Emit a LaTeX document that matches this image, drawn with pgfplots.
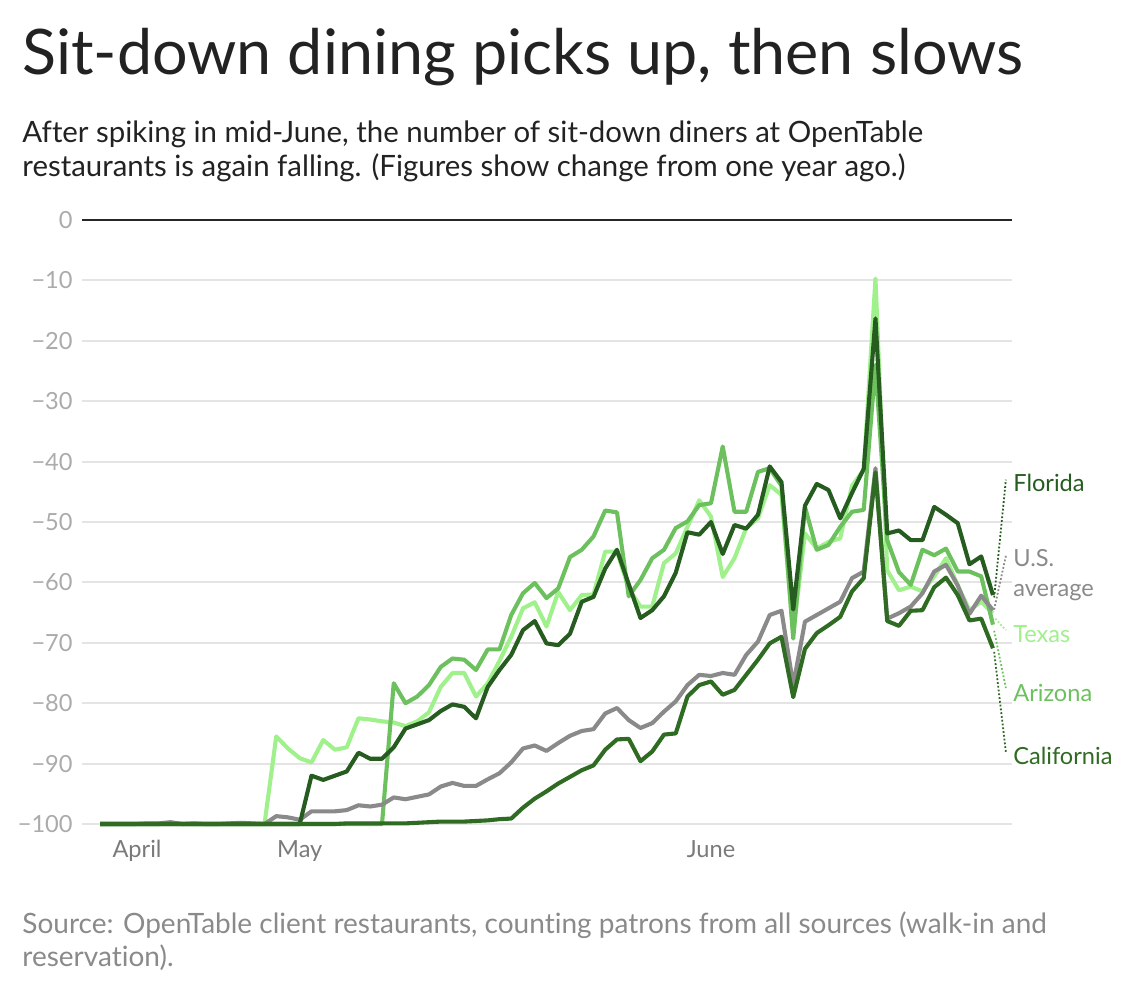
\documentclass[border=0pt]{standalone}
\usepackage{fontspec}
\setmainfont{Lato}[Ligatures={NoCommon}]
\usepackage{pgfplots}
\usepackage{pgfplotstable}
\pgfplotsset{compat=1.18}

\definecolor{tx}{HTML}{A0F08C}
\definecolor{az}{HTML}{6CC15E}
\definecolor{us}{HTML}{8A8A8A}
\definecolor{fl}{HTML}{265C1F}
\definecolor{ca}{HTML}{2F6B22}
\definecolor{ink}{HTML}{222222}
\definecolor{gridc}{HTML}{E4E4E4}

% change in seated diners vs. one year ago, daily
\pgfplotstableread{
i TX AZ US FL CA
0 -100 -100 -100 -100 -100
1 -100 -100 -100 -100 -100
2 -100 -100 -100 -100 -100
3 -100 -100 -100 -100 -100
4 -100 -100 -99.9 -100 -100
5 -100 -100 -99.9 -100 -100
6 -100 -99.8 -99.7 -100 -100
7 -100 -100 -100 -100 -100
8 -100 -100 -99.9 -100 -100
9 -100 -100 -100 -100 -100
10 -100 -100 -100 -100 -100
11 -100 -100 -99.9 -100 -100
12 -100 -100 -99.8 -100 -100
13 -100 -100 -99.9 -100 -100
14 -100 -100 -100 -100 -100
15 -85.5 -100 -98.7 -100 -100
16 -87.5 -100 -98.9 -100 -100
17 -89.1 -100 -99.3 -100 -100
18 -89.8 -100 -97.9 -92 -100
19 -86.1 -100 -97.9 -92.7 -100
20 -87.7 -100 -97.9 -92 -100
21 -87.3 -100 -97.7 -91.3 -99.9
22 -82.5 -100 -96.9 -88.2 -99.9
23 -82.7 -100 -97.1 -89.2 -99.9
24 -83.0 -100 -96.8 -89.2 -99.9
25 -83.2 -76.7 -95.6 -87.3 -99.9
26 -83.8 -80 -95.9 -84.2 -99.9
27 -83.0 -78.9 -95.5 -83.5 -99.8
28 -81.5 -77 -95.1 -82.8 -99.7
29 -77.3 -74 -93.8 -81.3 -99.6
30 -75.0 -72.6 -93.2 -80.2 -99.6
31 -75.0 -72.8 -93.7 -80.6 -99.6
32 -78.9 -74.5 -93.7 -82.5 -99.5
33 -76.7 -71.1 -92.6 -77.3 -99.4
34 -73.0 -71.1 -91.6 -74.5 -99.2
35 -69.0 -65.4 -89.8 -72 -99.1
36 -64.3 -61.8 -87.5 -67.9 -97.3
37 -63.3 -60.1 -87.0 -66.4 -95.8
38 -67.3 -62.6 -87.9 -70.1 -94.6
39 -61.6 -61 -86.6 -70.4 -93.3
40 -64.6 -55.8 -85.4 -68.5 -92.2
41 -62.1 -54.6 -84.6 -63.2 -91.1
42 -62.0 -52.4 -84.3 -62.4 -90.3
43 -54.9 -48.1 -81.7 -57.7 -87.7
44 -54.9 -48.4 -80.8 -54.6 -86.0
45 -61 -62.3 -82.8 -60.3 -85.9
46 -64 -59.6 -84.1 -65.9 -89.6
47 -64 -56 -83.3 -64.6 -88.0
48 -56.8 -54.6 -81.4 -62.3 -85.2
49 -55.2 -51 -79.7 -58.4 -85.0
50 -50.8 -49.9 -77 -51.7 -78.9
51 -46.4 -47.2 -75.3 -52.1 -77
52 -49.1 -46.9 -75.5 -50 -76.4
53 -59.1 -37.5 -75 -55.3 -78.6
54 -56 -48.3 -75.3 -50.5 -77.8
55 -51 -48.3 -72 -51.1 -75.3
56 -49.4 -41.7 -69.8 -48.8 -72.8
57 -43.9 -41.1 -65.4 -40.8 -70.1
58 -45.5 -44 -64.7 -43.4 -69
59 -68.4 -69.3 -77 -64.5 -79
60 -51.9 -47.5 -66.5 -47.3 -71
61 -54.4 -54.6 -65.4 -43.7 -68.4
62 -53.3 -53.8 -64.3 -44.7 -67.1
63 -52.7 -50.8 -63.2 -49.4 -65.7
64 -44 -48.3 -59.3 -45.2 -61.5
65 -41.4 -48 -58.2 -41.2 -59.3
66 -9.7 -24 -41.1 -16.3 -41.8
67 -58 -53 -66 -51.9 -66.4
68 -61.3 -58.3 -65.1 -51.4 -67.2
69 -60.7 -60.4 -64 -53 -64.7
70 -61.5 -54.6 -61.8 -53 -64.6
71 -59 -55.5 -58.2 -47.5 -60.8
72 -56 -54.4 -57.1 -48.8 -59.2
73 -60.5 -58.2 -60.5 -50.2 -62.1
74 -64.6 -58.2 -65.2 -57 -66.3
75 -63.2 -59 -62.2 -55.7 -66
76 -65.1 -67 -64.6 -62.1 -70.9
}\dining

\begin{document}
\begin{tikzpicture}
\useasboundingbox (0,0) rectangle (568pt,493pt);

\node[anchor=base west, inner sep=0, text=ink, font=\fontsize{31.4}{36}\selectfont]
  at (11pt,455.5pt) {Sit-down dining picks up, then slows};
\node[anchor=base west, inner sep=0, text=ink, font=\fontsize{14.7}{17}\selectfont]
  at (11pt,421.5pt) {After spiking in mid-June, the number of sit-down diners at OpenTable};
\node[anchor=base west, inner sep=0, text=ink, font=\fontsize{14.7}{17}\selectfont]
  at (11pt,404.5pt) {restaurants is again falling. (Figures show change from one year ago.)};
\node[anchor=base west, inner sep=0, text=us, font=\fontsize{14}{17}\selectfont]
  at (11pt,26.5pt) {Source: OpenTable client restaurants, counting patrons from all sources (walk-in and};
\node[anchor=base west, inner sep=0, text=us, font=\fontsize{14}{17}\selectfont]
  at (11pt,9.5pt) {reservation).};

\begin{axis}[
    at={(41pt,81pt)}, anchor=south west,
    scale only axis, width=465pt, height=302pt,
    xmin=-1.532, xmax=77.62,
    ymin=-100, ymax=0,
    axis line style={draw=none},
    major tick length=0pt,
    ytick={-100,-90,...,0},
    yticklabels={−100,−90,−80,−70,−60,−50,−40,−30,−20,−10,0},
    yticklabel style={anchor=east, inner sep=0pt, xshift=-4.5pt,
        text=black!33, font=\fontsize{11.8}{13}\selectfont},
    xtick={3.15,17,52},
    xticklabels={April,May,June},
    xticklabel style={anchor=north, inner sep=0pt, yshift=-8pt,
        text=black!52, font=\fontsize{11.8}{13}\selectfont},
    ymajorgrids,
    major grid style={draw=gridc, line width=1pt},
    clip=false,
    every axis plot/.append style={line width=2.05pt, line join=round, mark=none},
]
\draw[black!85, line width=0.8pt] (rel axis cs:0,1) -- (rel axis cs:1,1);

\addplot[tx] table[x=i, y=TX] {\dining};
\addplot[az] table[x=i, y=AZ] {\dining};
\addplot[us] table[x=i, y=US] {\dining};
\addplot[fl] table[x=i, y=FL] {\dining};
\addplot[ca] table[x=i, y=CA] {\dining};

% leader lines to the direct labels
\draw[fl, densely dotted, line width=0.9pt] (axis cs:76.1,-62.5) -- (axis cs:77.1,-43);
\draw[us, densely dotted, line width=0.9pt] (axis cs:76.1,-64.5) -- (axis cs:77.1,-55.6);
\draw[tx, densely dotted, line width=0.9pt] (axis cs:76.2,-66) -- (axis cs:77.1,-67.9);
\draw[az, densely dotted, line width=0.9pt] (axis cs:76.1,-68) -- (axis cs:77.1,-77.5);
\draw[ca, densely dotted, line width=0.9pt] (axis cs:76.1,-71.5) -- (axis cs:77.1,-88.1);

\begin{scope}[every node/.style={anchor=west, inner sep=0pt, font=\fontsize{11.8}{15}\selectfont}]
\node[text=fl] at (axis cs:77.7,-43.5) {Florida};
\node[text=us, align=left] at (axis cs:77.7,-58.8) {U.S.\\average};
\node[text=tx] at (axis cs:77.7,-68.5) {Texas};
\node[text=az] at (axis cs:77.7,-78.3) {Arizona};
\node[text=ca] at (axis cs:77.7,-88.7) {California};
\end{scope}
\end{axis}
\end{tikzpicture}
\end{document}
